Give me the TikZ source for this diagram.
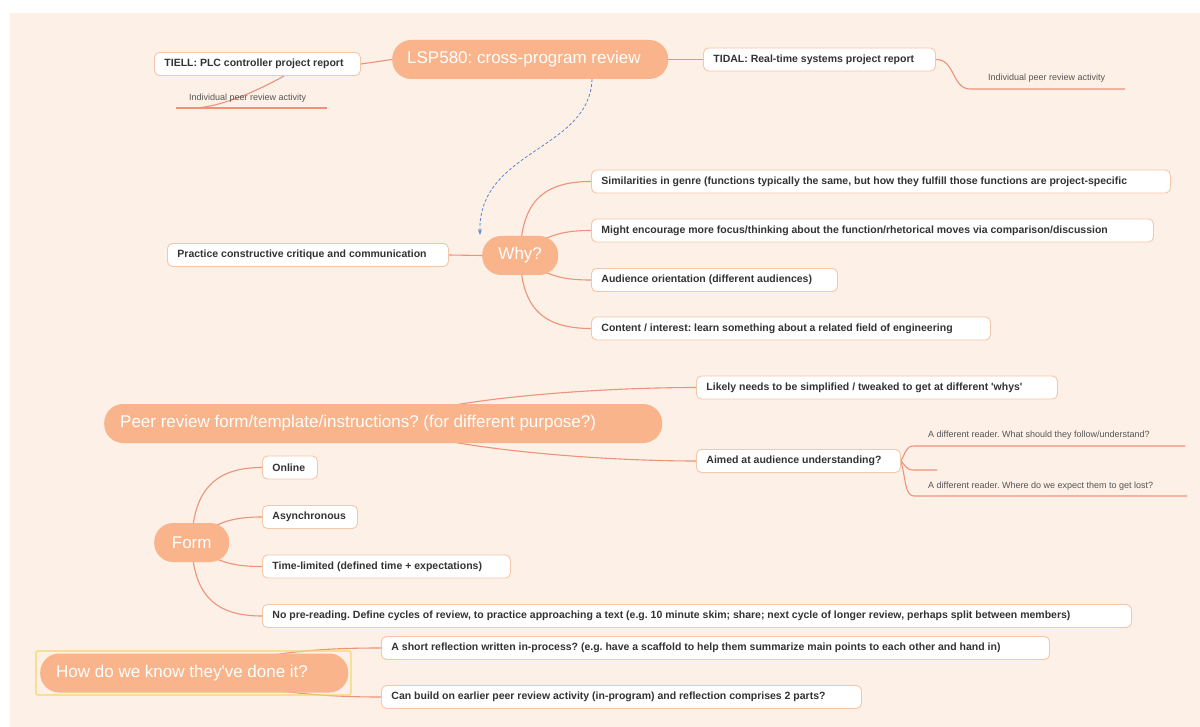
\documentclass[tikz,border=0pt]{standalone}
\usepackage{fontspec}
\setmainfont{Liberation Sans}
\usetikzlibrary{arrows.meta}
\frenchspacing
\definecolor{bgpeach}{HTML}{FDF0E6}
\definecolor{topic}{HTML}{FAB48B}
\definecolor{branch}{HTML}{EE9279}
\definecolor{boxborder}{HTML}{F6C6A9}
\definecolor{txt}{HTML}{333333}
\definecolor{smalltxt}{HTML}{555555}
\definecolor{dashblue}{HTML}{5587DA}
\definecolor{frameyellow}{HTML}{F7D66A}
\pgfdeclarelayer{back}
\pgfdeclarelayer{lines}
\pgfsetlayers{back,lines,main}
\tikzset{
  pill/.style={fill=topic, rounded corners=19pt, text=white, font=\fontsize{17}{20}\selectfont, minimum height=39pt, inner xsep=15pt, inner ysep=0pt, anchor=west},
  subbox/.style={draw=boxborder, fill=white, line width=0.9pt, rounded corners=5pt, text=txt, font=\bfseries\fontsize{10.5}{12}\selectfont, minimum height=23pt, inner xsep=10pt, inner ysep=0pt, anchor=west},
  lbl/.style={text=smalltxt, font=\fontsize{9}{11}\selectfont, inner sep=0pt, anchor=west},
  br/.style={draw=branch, line width=1.1pt},
  dasharrow/.style={draw=dashblue, line width=0.8pt, dash pattern=on 3pt off 2pt, -{Stealth[length=6pt,width=4pt]}},
  selframe/.style={draw=frameyellow, line width=1.2pt, rounded corners=2pt}
}
\begin{document}
\begin{tikzpicture}[x=1pt,y=-1pt]
\useasboundingbox (0,0) rectangle (1200,727);
\begin{pgfonlayer}{back}
\fill[white] (0,0) rectangle (1200,727);
\fill[bgpeach] (10,13) rectangle (1200,727);
\end{pgfonlayer}

% main topics
\node[pill] (lsp) at (392,59.5) {\makebox[246pt][l]{LSP580: cross-program review}};
\node[pill, minimum width=76pt, inner xsep=0pt] (why) at (482,255.5) {Why?};
\node[pill, inner xsep=16pt] (peer) at (104,423.5) {\makebox[526pt][l]{Peer review form/template/instructions? (for different purpose?)}};
\node[pill, minimum width=75pt, inner xsep=0pt] (form) at (154,542.5) {Form};
\node[pill, inner xsep=16pt] (how) at (40,673) {\makebox[276pt][l]{How do we know they\textquotesingle ve done it?}};

% sub boxes
\node[subbox] (tiell) at (154,64) {\makebox[186pt][l]{TIELL: PLC controller project report}};
\node[subbox] (tidal) at (703,59.5) {\makebox[212pt][l]{TIDAL: Real-time systems project report}};
\node[subbox] (prac) at (167,255) {\makebox[261pt][l]{Practice constructive critique and communication}};
\node[subbox] (sim) at (591,181.5) {\makebox[559pt][l]{Similarities in genre (functions typically the same, but how they fulfill those functions are project-specific}};
\node[subbox] (might) at (591,230.5) {\makebox[542pt][l]{Might encourage more focus/thinking about the function/rhetorical moves via comparison/discussion}};
\node[subbox] (aud) at (591,280) {\makebox[226pt][l]{Audience orientation (different audiences)}};
\node[subbox] (cont) at (591,328.5) {\makebox[379pt][l]{Content / interest: learn something about a related field of engineering}};
\node[subbox] (likely) at (696,387.5) {\makebox[341pt][l]{Likely needs to be simplified / tweaked to get at different \textquotesingle whys\textquotesingle}};
\node[subbox] (aimed) at (696,461) {\makebox[184pt][l]{Aimed at audience understanding?}};
\node[subbox] (online) at (262,467.5) {\makebox[35pt][l]{Online}};
\node[subbox] (async) at (262,517) {\makebox[75pt][l]{Asynchronous}};
\node[subbox] (time) at (262,566.5) {\makebox[228pt][l]{Time-limited (defined time + expectations)}};
\node[subbox] (nopre) at (262,616) {\makebox[849pt][l]{No pre-reading. Define cycles of review, to practice approaching a text (e.g. 10 minute skim; share; next cycle of longer review, perhaps split between members)}};
\node[subbox] (short) at (381,648) {\makebox[648pt][l]{A short reflection written in-process? (e.g. have a scaffold to help them summarize main points to each other and hand in)}};
\node[subbox] (canb) at (381,697) {\makebox[460pt][l]{Can build on earlier peer review activity (in-program) and reflection comprises 2 parts?}};

% floating labels
\node[lbl] (lbla) at (189,98) {Individual peer review activity};
\node[lbl] (lblb) at (988,78) {Individual peer review activity};
\node[lbl] (lblc) at (928,435) {A different reader. What should they follow/understand?};
\node[lbl] (lbld) at (928,486) {A different reader. Where do we expect them to get lost?};

% coordinates for free line ends
\coordinate (ua) at (176,108);
\coordinate (um) at (193,108);
\coordinate (ub) at (327,108);
\coordinate (ta) at (970,89);
\coordinate (tb) at (1125,89);
\coordinate (a1s) at (914,446);
\coordinate (a1e) at (1185,446);
\coordinate (a2s) at (914,470);
\coordinate (a2e) at (937,470);
\coordinate (a3s) at (914,496);
\coordinate (a3e) at (1187,496);
\coordinate (tielljoin) at (284,76);

% selection frame
\draw[selframe] (36,651) rectangle (351,695);

\begin{pgfonlayer}{lines}
\draw[br] (tiell.east) -- (lsp.west);
\draw[br] (lsp.east) -- (tidal.west);
\draw[br] (tielljoin) .. controls (250,95) and (215,108) .. (um);
\draw[br] (ua) -- (ub);
\draw[br] (tidal.east) .. controls (955,59) and (952,89) .. (ta) -- (tb);

\draw[br] (prac.east) -- (why.west);
\draw[br] (why.center) .. controls (521,200) and (545,181.5) .. (sim.west);
\draw[br] (why.center) .. controls (545,234) and (565,230.5) .. (might.west);
\draw[br] (why.center) .. controls (545,277) and (565,280) .. (aud.west);
\draw[br] (why.center) .. controls (521,310) and (545,328.5) .. (cont.west);

\draw[br] (peer.center) .. controls (440,398) and (600,387.5) .. (likely.west);
\draw[br] (peer.center) .. controls (440,449) and (600,461) .. (aimed.west);

\draw[br] (aimed.east) .. controls (906,452) and (906,446) .. (a1s) -- (a1e);
\draw[br] (aimed.east) .. controls (906,466) and (906,470) .. (a2s) -- (a2e);
\draw[br] (aimed.east) .. controls (906,480) and (905,496) .. (a3s) -- (a3e);

\draw[br] (form.center) .. controls (193,490) and (215,467.5) .. (online.west);
\draw[br] (form.center) .. controls (215,521) and (235,517) .. (async.west);
\draw[br] (form.center) .. controls (215,563) and (235,566.5) .. (time.west);
\draw[br] (form.center) .. controls (193,595) and (215,616) .. (nopre.west);

\draw[br] (how.center) .. controls (270,650) and (330,648) .. (short.west);
\draw[br] (how.center) .. controls (270,694) and (330,697) .. (canb.west);

\draw[dasharrow] (lsp.south -| 592,0) .. controls (590,150) and (478,150) .. (480,235);
\end{pgfonlayer}
\end{tikzpicture}
\end{document}
